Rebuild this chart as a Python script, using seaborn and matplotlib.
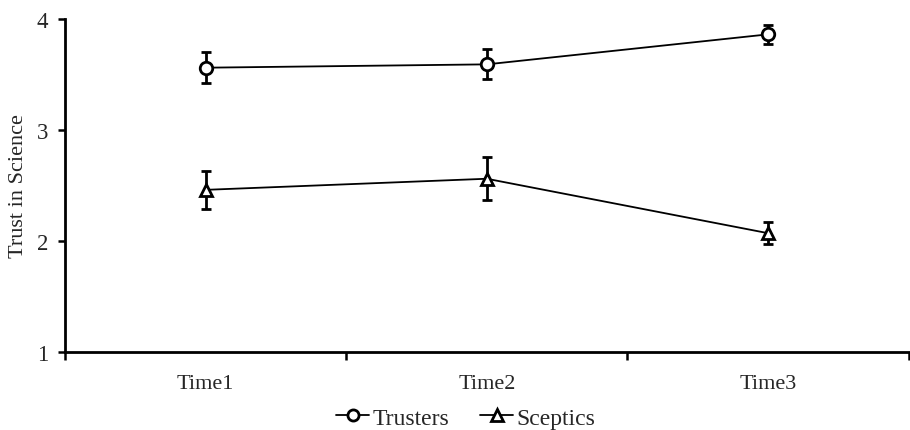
import matplotlib
matplotlib.use("Agg")
import matplotlib.pyplot as plt
import seaborn as sns
import pandas as pd
from matplotlib.lines import Line2D
from matplotlib.ticker import FixedLocator

sns.set_style("white")
plt.rcParams["font.family"] = ["Liberation Serif", "DejaVu Serif"]

# Mean trust in science by group and wave, with error half-widths
times = ["Time1", "Time2", "Time3"]
groups = ["Trusters", "Sceptics"]
trusters_mean = [3.56, 3.59, 3.86]
trusters_err = [0.14, 0.135, 0.085]
sceptics_mean = [2.46, 2.56, 2.07]
sceptics_err = [0.17, 0.195, 0.10]

df = pd.DataFrame({
    "time": times * 2,
    "group": [groups[0]] * 3 + [groups[1]] * 3,
    "trust": trusters_mean + sceptics_mean,
})

fig = plt.figure(figsize=(9.10, 4.31), dpi=100)
ax = fig.add_axes([0.0714, 0.181, 0.927, 0.773])

sns.pointplot(data=df, x="time", y="trust", hue="group", order=times,
              hue_order=groups, markers=["o", "^"], linestyles=["-", "-"],
              palette=["black", "black"], errorbar=None, ax=ax, legend=False,
              markersize=9, linewidth=1.3)

for line in ax.lines:
    line.set_markerfacecolor("white")
    line.set_markeredgecolor("black")
    line.set_markeredgewidth(2)
    line.set_zorder(3)

xs = range(len(times))
for means, errs in [(trusters_mean, trusters_err), (sceptics_mean, sceptics_err)]:
    ax.errorbar(list(xs), means, yerr=errs, fmt="none", ecolor="black",
                elinewidth=2, capsize=3.5, capthick=2, zorder=2)

ax.set_xlim(-0.5, 2.5)
ax.set_ylim(1, 4)
ax.set_yticks([1, 2, 3, 4])
ax.set_xticks(list(xs))
ax.set_xticklabels(times)
ax.xaxis.set_minor_locator(FixedLocator([-0.5, 0.5, 1.5, 2.5]))
ax.tick_params(axis="x", which="major", length=0, pad=16, labelsize=16)
ax.tick_params(axis="x", which="minor", length=6, width=1.8, direction="out",
               bottom=True, color="black")
ax.tick_params(axis="y", length=5, width=1.8, direction="out", left=True,
               labelsize=16.5, pad=7, color="black")

ax.set_xlabel("")
ax.set_ylabel("Trust in Science", fontsize=16, labelpad=6)

sns.despine(ax=ax)
for side in ["left", "bottom"]:
    ax.spines[side].set_linewidth(2)
    ax.spines[side].set_color("black")

handles = [
    Line2D([0], [0], color="black", lw=1.3, marker="o", markersize=8,
           markerfacecolor="white", markeredgewidth=2),
    Line2D([0], [0], color="black", lw=1.3, marker="^", markersize=8,
           markerfacecolor="white", markeredgewidth=2),
]
fig.legend(handles, groups, loc="center", bbox_to_anchor=(0.512, 0.028),
           ncol=2, frameon=False, fontsize=17, handlelength=1.4,
           handletextpad=0.15, columnspacing=1.3)

fig.savefig("out.png", dpi=100)
